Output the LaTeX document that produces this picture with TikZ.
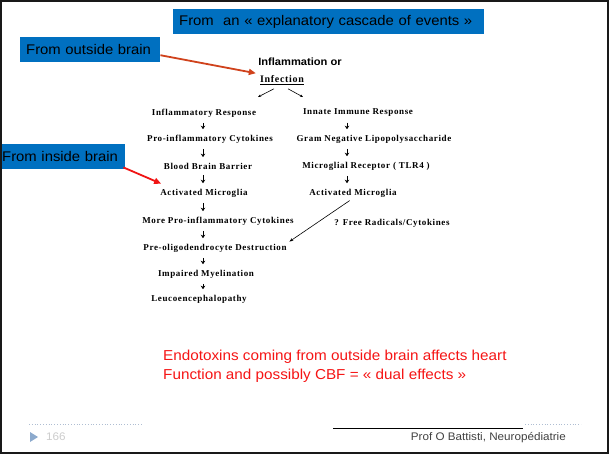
\documentclass[tikz,border=0pt]{standalone}
\usepackage{fontspec}
\setmainfont[FakeStretch=1.06]{Liberation Sans}
\newfontfamily\scanfont[LetterSpace=7]{Liberation Serif}
\usepackage{xcolor}
\usetikzlibrary{positioning}
\usetikzlibrary{arrows.meta}
\usetikzlibrary{calc}
\definecolor{slideblue}{RGB}{0,112,192}
\definecolor{outred}{RGB}{208,66,28}
\definecolor{inred}{RGB}{240,20,20}
\definecolor{textred}{RGB}{245,20,20}
\definecolor{footgray}{RGB}{175,190,210}
\definecolor{footblue}{RGB}{140,170,205}
\tikzset{banner/.style={fill=slideblue, text=black, font=\fontsize{14}{16}\selectfont,
inner xsep=6pt, inner ysep=0pt, minimum height=25pt, align=left, anchor=north west},
event/.style={font=\scanfont\bfseries\fontsize{9}{10}\selectfont, inner sep=1pt},
flow/.style={-{Stealth[length=3.5pt,width=4.5pt]}, line width=1pt, shorten <=4.5pt, shorten >=4.5pt}}

\begin{document}
\begin{tikzpicture}[x=1pt, y=-1pt, hint/.style={-{Triangle[length=7pt,width=6pt]}, line width=1.8pt}]
\useasboundingbox (0,0) rectangle (611,456);

% headline boxes
\node[banner, text width=299pt] (title) at (173,9) {From\ \ an « explanatory cascade of events »};
\node[banner, text width=128pt] (outside) at (20,37) {From outside brain};
\node[banner, text width=121pt, inner xsep=2pt] (inside) at (0,144) {From inside brain};

% top of the cascade
\node[font=\bfseries\fontsize{10.5}{12}\selectfont, inner sep=1pt] (inflam) at (300,62) {Inflammation or};
\node[event, font=\scanfont\bfseries\fontsize{10}{11}\selectfont] (infect) at (282,80) {\underline{Infection}};
\coordinate (splitl) at (258,97);
\coordinate (splitr) at (303,97);
\draw[-{Stealth[length=3pt,width=2.5pt]}, line width=0.6pt] ([xshift=-8pt,yshift=-3pt]infect.south) -- (splitl);
\draw[-{Stealth[length=3pt,width=2.5pt]}, line width=0.6pt] ([xshift=6pt,yshift=-3pt]infect.south) -- (splitr);

% left column
\coordinate (lcol) at (203,0);
\node[event] (ir) at (204,113) {Inflammatory Response};
\node[event] (pic) at (210,139) {Pro-inflammatory Cytokines};
\node[event] (bbb) at (208,166) {Blood Brain Barrier};
\node[event] (am) at (204,193) {Activated Microglia};
\node[event] (mpic) at (218,221) {More Pro-inflammatory Cytokines};
\node[event] (pod) at (215,248) {Pre-oligodendrocyte Destruction};
\node[event] (im) at (206,274) {Impaired Myelination};
\node[event] (leuco) at (199,299) {Leucoencephalopathy};
\foreach \a/\b in {ir/pic, pic/bbb, bbb/am, am/mpic, mpic/pod, pod/im, im/leuco}
  \draw[flow] (\a.south -| lcol) -- (\b.north -| lcol);

% right column
\coordinate (rcol) at (347,0);
\node[event] (iir) at (358,113) {Innate Immune Response};
\node[event] (gnl) at (374,139) {Gram Negative Lipopolysaccharide};
\node[event] (mr) at (366,166) {Microglial Receptor ( TLR4 )};
\node[event] (amr) at (353,193) {Activated Microglia};
\node[event] (frc) at (392,223) {? Free Radicals/Cytokines};
\foreach \a/\b in {iir/gnl, gnl/mr, mr/amr}
  \draw[flow] (\a.south -| rcol) -- (\b.north -| rcol);
\draw[-{Stealth[length=4pt,width=3pt]}, line width=0.6pt, shorten <=4pt, shorten >=2pt] (amr.south) -- (pod.north east);

% red pointers
\draw[hint, outred] ($(outside.east)+(0,5.5)$) -- ($(infect.north west)+(-3,-1)$);
\draw[hint, inred] ($(inside.south east)+(-2,-2)$) -- ($(am.north west)+(2,-4)$);

% remark
\node[text=textred, font=\fontsize{14.4}{19}\selectfont, align=left, anchor=west, inner sep=0pt] (remark) at (163,366)
  {Endotoxins coming from outside brain affects heart\\Function and possibly CBF = « dual effects »};

% footer
\coordinate (fl1) at (29,424);
\coordinate (fl2) at (142,424);
\coordinate (fr1) at (525,424);
\coordinate (fr2) at (581,424);
\draw[footgray, dotted, line width=0.8pt] (fl1) -- (fl2);
\draw[footgray, dotted, line width=0.8pt] (fr1) -- (fr2);
\coordinate (hl1) at (333,428);
\coordinate (hl2) at (523,428);
\draw[line width=0.5pt] (hl1) -- (hl2);
\fill[footblue] (30,432) -- (38,437) -- (30,442) -- cycle;
\node[text=black!20, font=\fontsize{11}{12}\selectfont, anchor=west, inner sep=0pt] (page) at (46,437) {166};
\node[text=black!75, font=\fontsize{11}{12}\selectfont, anchor=east, inner sep=0pt] (author) at (566,438) {Prof O Battisti, Neuropédiatrie};

% slide frame
\draw[black!90, line width=1.5pt] (1,1) rectangle (608,453);
\end{tikzpicture}
\end{document}
